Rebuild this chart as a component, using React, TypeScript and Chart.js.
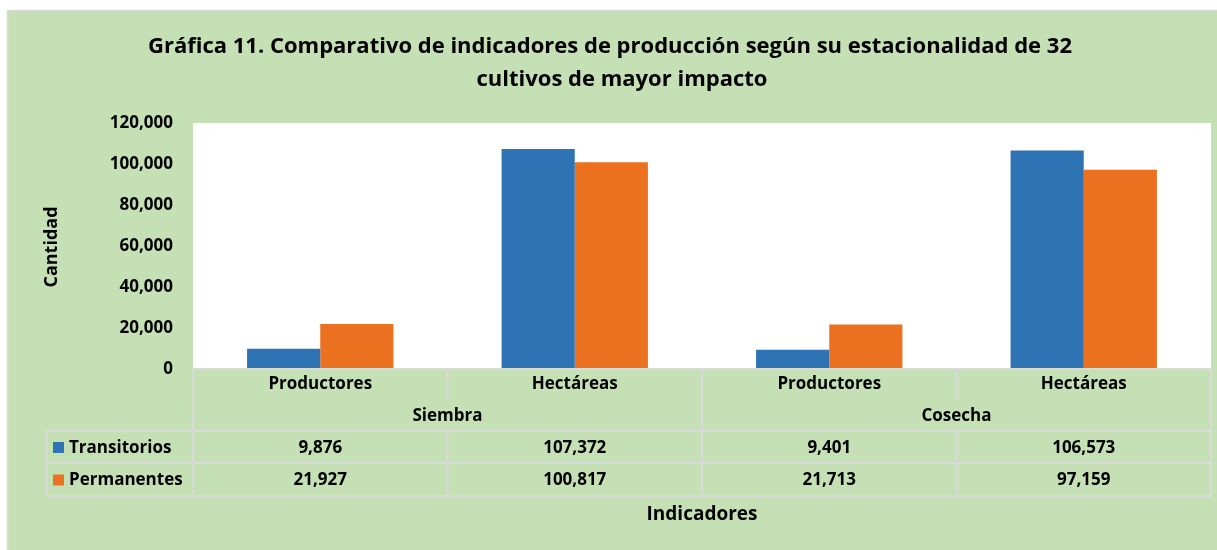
import React, { useEffect, useRef } from "react";
import { Chart, registerables } from "chart.js";

Chart.register(...registerables);

const categories = ["Productores", "Hectáreas", "Productores", "Hectáreas"];
const groups = ["Siembra", "Cosecha"];
const transitorios = [9876, 107372, 9401, 106573];
const permanentes = [21927, 100817, 21713, 97159];
const seriesNames = ["Transitorios", "Permanentes"];
const titleLines = [
  "Gráfica 11. Comparativo de indicadores de producción según su estacionalidad de 32",
  "cultivos de mayor impacto",
];
const yTitle = "Cantidad";
const xTitle = "Indicadores";

const BLUE = "#2E74B5";
const ORANGE = "#EB7120";
const GREEN = "#C5E0B4";
const LINE = "#D9D9D9";
const FONT = "'Open Sans', Lato, sans-serif";

const fmt = (v: number) => v.toLocaleString("en-US");

const decorPlugin = {
  id: "decor",
  beforeDraw(chart: any) {
    const { ctx, chartArea } = chart;
    ctx.save();
    ctx.fillStyle = "#ffffff";
    ctx.fillRect(0, 0, chart.width, chart.height);
    ctx.fillStyle = GREEN;
    ctx.fillRect(7, 10, chart.width - 7, chart.height - 10);
    ctx.strokeStyle = LINE;
    ctx.lineWidth = 1.5;
    ctx.beginPath();
    ctx.moveTo(7.5, chart.height);
    ctx.lineTo(7.5, 10.5);
    ctx.lineTo(chart.width, 10.5);
    ctx.stroke();
    ctx.fillStyle = "#ffffff";
    ctx.fillRect(chartArea.left, chartArea.top, chartArea.right - chartArea.left, chartArea.bottom - chartArea.top);
    ctx.restore();
  },
  afterDraw(chart: any) {
    const { ctx, chartArea } = chart;
    const xs = chart.scales.x;
    const left = chartArea.left;
    const right = chartArea.right;
    const n = categories.length;
    const catW = (right - left) / n;
    const b = (i: number) => left + i * catW;
    ctx.save();
    // title
    ctx.fillStyle = "#000";
    ctx.textAlign = "center";
    ctx.textBaseline = "middle";
    ctx.font = `bold 22px ${FONT}`;
    ctx.fillText(titleLines[0], 610, 47);
    ctx.fillText(titleLines[1], 622, 80);
    // y title
    ctx.save();
    ctx.translate(52, 247);
    ctx.rotate(-Math.PI / 2);
    ctx.font = `bold 18px ${FONT}`;
    ctx.fillText(yTitle, 0, 0);
    ctx.restore();
    // x title
    ctx.font = `bold 19px ${FONT}`;
    ctx.fillText(xTitle, (left + right) / 2, 515);

    // table
    const y0 = chartArea.bottom;
    const yCat = y0 + 31;
    const yGrp = y0 + 62;
    const yR1 = y0 + 94;
    const yR2 = y0 + 127;
    const legLeft = 47;
    ctx.strokeStyle = LINE;
    ctx.lineWidth = 2;
    ctx.beginPath();
    ctx.moveTo(left, y0);
    ctx.lineTo(right, y0);
    [yGrp, yR1, yR2].forEach((y) => {
      ctx.moveTo(legLeft, y);
      ctx.lineTo(right, y);
    });
    for (let i = 0; i <= n; i++) {
      const x = b(i);
      ctx.moveTo(x, y0);
      ctx.lineTo(x, yCat);
      const groupBoundary = i % 2 === 0;
      ctx.moveTo(x, groupBoundary ? yCat : yGrp);
      ctx.lineTo(x, yR2);
    }
    ctx.moveTo(legLeft, yGrp);
    ctx.lineTo(legLeft, yR2);
    ctx.stroke();

    ctx.fillStyle = "#000";
    ctx.font = `bold 17px ${FONT}`;
    ctx.textAlign = "center";
    categories.forEach((c, i) => {
      ctx.fillText(c, xs.getPixelForValue(i), y0 + 15);
    });
    groups.forEach((g, gi) => {
      ctx.fillText(g, (b(gi * 2) + b(gi * 2 + 2)) / 2, y0 + 47);
    });
    const rows = [transitorios, permanentes];
    const colors = [BLUE, ORANGE];
    rows.forEach((vals, r) => {
      const yc = (r === 0 ? (yGrp + yR1) / 2 : (yR1 + yR2) / 2) + 1;
      vals.forEach((v, i) => {
        ctx.textAlign = "center";
        ctx.fillText(fmt(v), xs.getPixelForValue(i), yc);
      });
      ctx.fillStyle = colors[r];
      ctx.fillRect(53, yc - 6, 11, 11);
      ctx.fillStyle = "#000";
      ctx.textAlign = "left";
      ctx.fillText(seriesNames[r], 69, yc);
    });
    ctx.restore();
  },
};

export default function App() {
  const ref = useRef<HTMLCanvasElement>(null);
  useEffect(() => {
    if (!ref.current) return;
    const chart = new Chart(ref.current, {
      type: "bar",
      data: {
        labels: categories,
        datasets: [
          { label: seriesNames[0], data: transitorios, backgroundColor: BLUE, borderWidth: 0 },
          { label: seriesNames[1], data: permanentes, backgroundColor: ORANGE, borderWidth: 0 },
        ],
      },
      options: {
        animation: false,
        responsive: false,
        maintainAspectRatio: false,
        layout: { padding: { left: 0, right: 6, top: 123, bottom: 181 } },
        datasets: { bar: { categoryPercentage: 0.575, barPercentage: 1 } },
        plugins: {
          legend: { display: false },
          title: { display: false },
          tooltip: { enabled: false },
        },
        scales: {
          x: { display: false },
          y: {
            min: 0,
            max: 120000,
            afterFit: (s: any) => {
              s.width = 193;
            },
            border: { display: false },
            grid: { display: false, drawTicks: false },
            ticks: {
              stepSize: 20000,
              padding: 20,
              color: "#000",
              font: { family: FONT, size: 17, weight: "bold" },
              callback: (v: any) => fmt(Number(v)),
            },
          },
        },
      },
      plugins: [decorPlugin],
    });
    return () => chart.destroy();
  }, []);
  return (
    <div style={{ position: "absolute", left: 0, top: 0, width: 1217, height: 550 }}>
      <canvas ref={ref} width={1217} height={550} style={{ width: 1217, height: 550 }} />
    </div>
  );
}
